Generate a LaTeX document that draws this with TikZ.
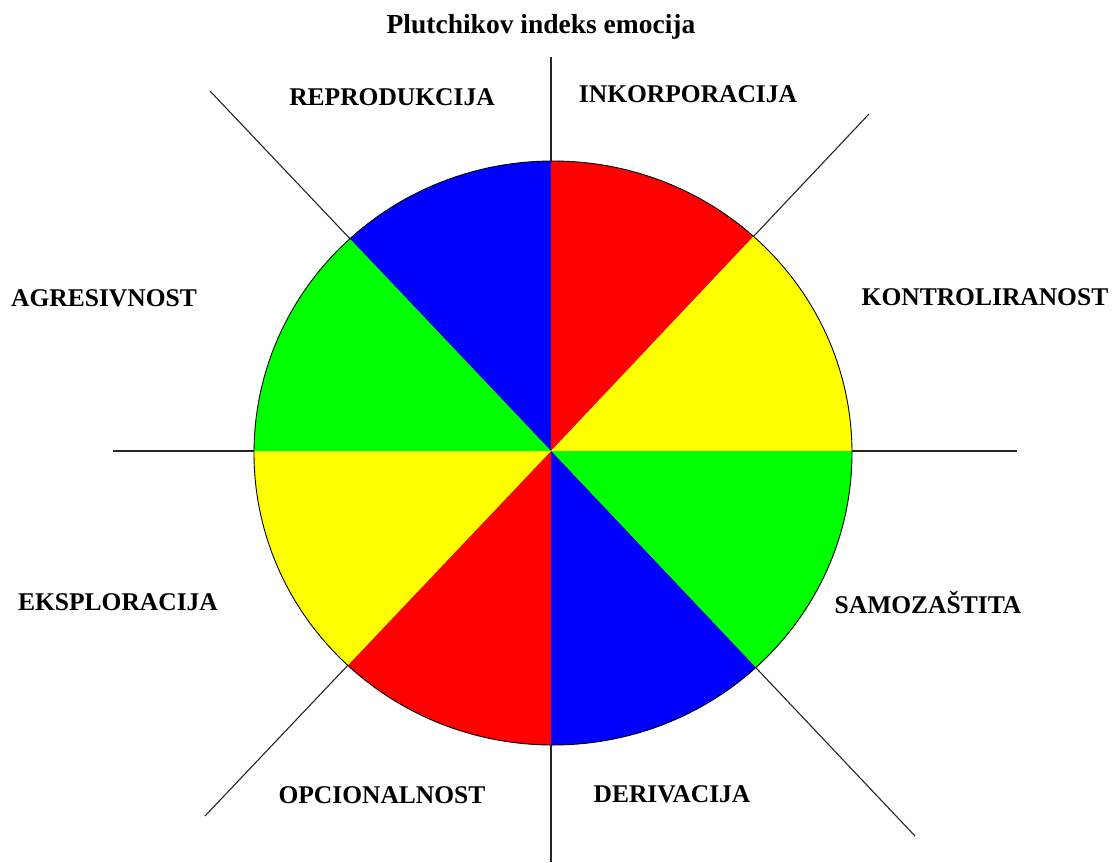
\documentclass[tikz,border=0pt]{standalone}
\usepackage{fontspec}
\setmainfont{Liberation Serif}
\definecolor{pyellow}{RGB}{255,255,0}
\definecolor{pred}{RGB}{255,0,0}
\definecolor{pgreen}{RGB}{0,255,0}
\definecolor{pblue}{RGB}{0,0,255}

\begin{document}
\begin{tikzpicture}[x=1pt, y=-1pt]
\tikzstyle{every node}=[font=\fontsize{25.5}{30}\selectfont\bfseries, anchor=base, inner sep=0pt]
\tikzstyle{axis}=[line width=1.1pt, black!85]
\useasboundingbox (0,0) rectangle (1113,862);

\coordinate (O) at (551,451);
\coordinate (N) at (551,57);
\coordinate (S) at (551,862);
\coordinate (W) at (113,451);
\coordinate (E) at (1017,451);
\coordinate (NW) at (210,91);
\coordinate (NE) at (869,114);
\coordinate (SE) at (915,836);
\coordinate (SW) at (205,816);

\draw[axis] (N) -- (S); % vertical
\draw[axis] (W) -- (E); % horizontal
\draw[axis] (NW) -- (O) -- (SE);
\draw[axis] (NE) -- (O) -- (SW);

\begin{scope}
\clip (553,453) ellipse [x radius=299, y radius=292];
\fill[pblue] (O) -- (NW) -- (N) -- cycle;
\fill[pred] (O) -- (N) -- (NE) -- cycle;
\fill[pyellow] (O) -- (NE) -- (E) -- cycle;
\fill[pgreen] (O) -- (E) -- (SE) -- cycle;
\fill[pblue] (O) -- (SE) -- (S) -- cycle;
\fill[pred] (O) -- (S) -- (SW) -- cycle;
\fill[pyellow] (O) -- (SW) -- (W) -- cycle;
\fill[pgreen] (O) -- (W) -- (NW) -- cycle;
\end{scope}
\draw[line width=0.9pt] (553,453) ellipse [x radius=299, y radius=292];

\node[font=\fontsize{27.5}{32}\selectfont\bfseries] (title) at (541,33) {Plutchikov indeks emocija};

\node (repro) at (392,105) {REPRODUKCIJA};
    \node (inkorp) at (688,102) {INKORPORACIJA};
\node (agres) at (104,306) {AGRESIVNOST};
    \node (kontr) at (985,305) {KONTROLIRANOST};
\node (eksplo) at (118,610) {EKSPLORACIJA};
    \node (samoz) at (928,613) {SAMOZAŠTITA};
\node (opcio) at (382,803) {OPCIONALNOST};
    \node (deriv) at (672,802) {DERIVACIJA};

\end{tikzpicture}
\end{document}
